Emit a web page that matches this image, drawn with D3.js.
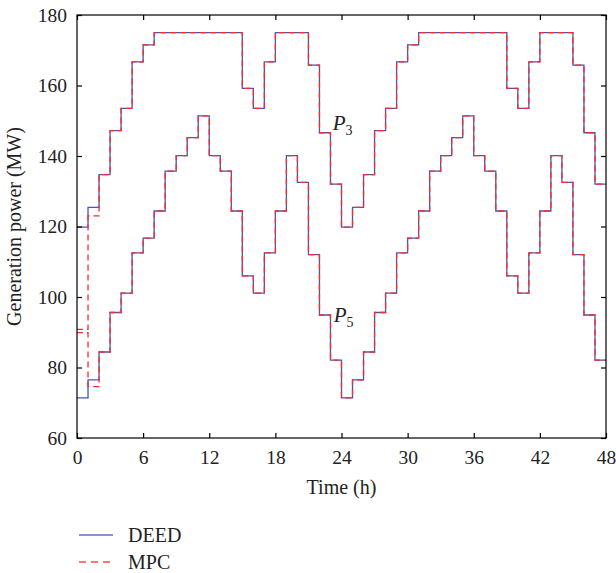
<!DOCTYPE html>
<html>
<head>
<meta charset="utf-8">
<script src="https://cdn.jsdelivr.net/npm/d3@7"></script>
<style>
  html, body { margin: 0; padding: 0; background: #fff; }
  svg { display: block; }
  text { font-family: "Liberation Serif", "DejaVu Serif", serif; fill: #222; }
</style>
</head>
<body>
<script>
// ---- data (hourly step values, hour 0..47) ----
const hours = d3.range(0, 48);
const p3Deed = [119.8,125.4,134.7,147.2,153.5,166.7,171.5,175,175,175,175,175,175,175,175,159.2,153.5,166.7,175,175,175,165.8,146.6,132.0,
                119.8,125.4,134.7,147.2,153.5,166.7,171.5,175,175,175,175,175,175,175,175,159.2,153.5,166.7,175,175,175,165.8,146.6,132.0];
const p3Mpc  = [90.8,123.0,134.7,147.2,153.5,166.7,171.5,175,175,175,175,175,175,175,175,159.2,153.5,166.7,175,175,175,165.8,146.6,132.0,
                119.8,125.4,134.7,147.2,153.5,166.7,171.5,175,175,175,175,175,175,175,175,159.2,153.5,166.7,175,175,175,165.8,146.6,132.0];
const p5Deed = [71.4,76.5,84.4,95.6,101.1,112.5,116.7,124.4,135.7,140.1,145.2,151.4,140.1,135.7,124.4,106.0,101.1,112.5,124.4,140.1,132.5,112.0,94.9,82.1,
                71.4,76.5,84.4,95.6,101.1,112.5,116.7,124.4,135.7,140.1,145.2,151.4,140.1,135.7,124.4,106.0,101.1,112.5,124.4,140.1,132.5,112.0,94.9,82.1];
const p5Mpc  = [89.9,74.6,84.4,95.6,101.1,112.5,116.7,124.4,135.7,140.1,145.2,151.4,140.1,135.7,124.4,106.0,101.1,112.5,124.4,140.1,132.5,112.0,94.9,82.1,
                71.4,76.5,84.4,95.6,101.1,112.5,116.7,124.4,135.7,140.1,145.2,151.4,140.1,135.7,124.4,106.0,101.1,112.5,124.4,140.1,132.5,112.0,94.9,82.1];
const xTicks = [0, 6, 12, 18, 24, 30, 36, 42, 48];
const yTicks = [60, 80, 100, 120, 140, 160, 180];
const seriesNames = ["DEED", "MPC"];
const seriesColors = ["#3f59b6", "#ff2a2a"];
const curveLabels = [{name: "P", sub: "3", t: 23.2, v: 147.5}, {name: "P", sub: "5", t: 23.3, v: 93}];

// ---- layout ----
const W = 616, H = 573;
const m = {left: 77, right: 10, top: 15, bottom: 135};
const iw = W - m.left - m.right, ih = H - m.top - m.bottom;

const svg = d3.select("body").append("svg").attr("width", W).attr("height", H);
const g = svg.append("g").attr("transform", `translate(${m.left},${m.top})`);

const x = d3.scaleLinear().domain([0, 48]).range([0, iw]);
const y = d3.scaleLinear().domain([60, 180]).range([ih, 0]);

// clip
svg.append("defs").append("clipPath").attr("id", "clip")
  .append("rect").attr("width", iw).attr("height", ih);

// step lines
const toPts = arr => hours.map(h => [h, arr[h]]).concat([[48, arr[47]]]);
const line = d3.line().x(d => x(d[0])).y(d => y(d[1])).curve(d3.curveStepAfter);
const plot = g.append("g").attr("clip-path", "url(#clip)");

[p3Deed, p5Deed].forEach(arr => {
  plot.append("path").attr("d", line(toPts(arr)))
    .attr("fill", "none").attr("stroke", seriesColors[0]).attr("stroke-width", 1.3);
});
[p3Mpc, p5Mpc].forEach(arr => {
  plot.append("path").attr("d", line(toPts(arr)))
    .attr("fill", "none").attr("stroke", seriesColors[1]).attr("stroke-width", 1.3)
    .attr("stroke-dasharray", "6,4");
});

// frame
g.append("rect").attr("width", iw).attr("height", ih)
  .attr("fill", "none").attr("stroke", "#000").attr("stroke-width", 1.2);

// axes
const tickLen = 5;
const xb = g.append("g").attr("transform", `translate(0,${ih})`)
  .call(d3.axisBottom(x).tickValues(xTicks).tickSize(-tickLen).tickPadding(12));
const yl = g.append("g")
  .call(d3.axisLeft(y).tickValues(yTicks).tickSize(-tickLen).tickPadding(10));
const xt = g.append("g")
  .call(d3.axisTop(x).tickValues(xTicks).tickSize(-tickLen).tickFormat(""));
const yr = g.append("g").attr("transform", `translate(${iw},0)`)
  .call(d3.axisRight(y).tickValues(yTicks).tickSize(-tickLen).tickFormat(""));
[xb, yl, xt, yr].forEach(a => {
  a.select(".domain").remove();
  a.selectAll(".tick line").attr("stroke", "#000").attr("stroke-width", 1.2);
  a.selectAll("text").style("font-family", '"Liberation Serif", serif').style("font-size", "19.5px").attr("fill", "#222");
});

// axis titles
svg.append("text").attr("x", m.left + iw / 2).attr("y", 494)
  .attr("text-anchor", "middle").style("font-size", "20px").text("Time (h)");
svg.append("text").attr("transform", `translate(21,${m.top + ih / 2}) rotate(-90)`)
  .attr("text-anchor", "middle").style("font-size", "20px").text("Generation power (MW)");

// curve labels
curveLabels.forEach(c => {
  const t = g.append("text").attr("x", x(c.t)).attr("y", y(c.v))
    .style("font-size", "21px");
  t.append("tspan").style("font-style", "italic").text(c.name);
  t.append("tspan").attr("dy", 5).style("font-size", "14px").text(c.sub);
});

// legend
const legY = [535, 562];
seriesNames.forEach((n, i) => {
  svg.append("line").attr("x1", 79).attr("x2", 113).attr("y1", legY[i]).attr("y2", legY[i])
    .attr("stroke", seriesColors[i]).attr("stroke-width", 1.3)
    .attr("stroke-dasharray", i === 1 ? "7,5" : null).attr("opacity", 0.85);
  svg.append("text").attr("x", 128).attr("y", legY[i] + 7).style("font-size", "20px").text(n);
});
</script>
</body>
</html>
